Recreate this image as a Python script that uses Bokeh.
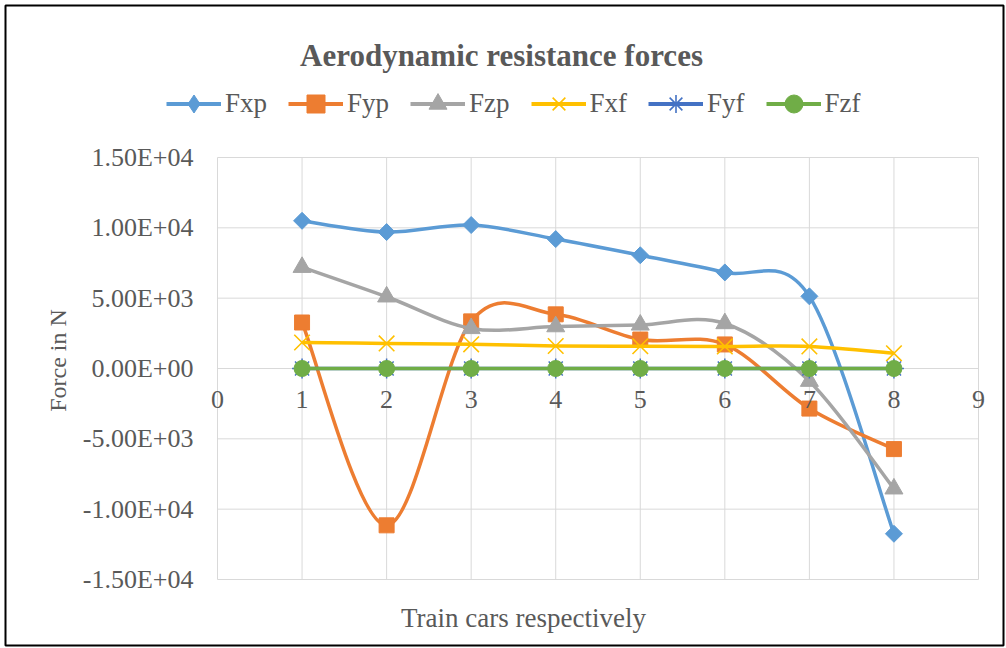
import numpy as np
from bokeh.plotting import figure
from bokeh.models import Legend, LegendItem, FixedTicker, ColumnDataSource, Label
from bokeh.embed import file_html
from bokeh.resources import INLINE

# ---------------- data ----------------
cars = [1, 2, 3, 4, 5, 6, 7, 8]
Fxp = [10500, 9700, 10200, 9200, 8050, 6830, 5130, -11750]
Fyp = [3270, -11150, 3350, 3850, 2060, 1710, -2850, -5730]
Fzp = [7200, 5100, 2850, 2980, 3100, 3200, -900, -8550]
Fxf = [1850, 1780, 1720, 1600, 1580, 1570, 1570, 1080]
Fyf = [0, 0, 0, 0, 0, 0, 0, 0]
Fzf = [0, 0, 0, 0, 0, 0, 0, 0]

series_names = ["Fxp", "Fyp", "Fzp", "Fxf", "Fyf", "Fzf"]
series_values = [Fxp, Fyp, Fzp, Fxf, Fyf, Fzf]
series_colors = ["#5B9BD5", "#ED7D31", "#A5A5A5", "#FFC000", "#4472C4", "#70AD47"]
legend_markers = ["diamond", "square", "triangle", "x", "asterisk", "circle"]

x_ticks = [0, 1, 2, 3, 4, 5, 6, 7, 8, 9]
y_ticks = [-15000, -10000, -5000, 0, 5000, 10000, 15000]
y_tick_labels = ["-1.50E+04", "-1.00E+04", "-5.00E+03", "0.00E+00",
                 "5.00E+03", "1.00E+04", "1.50E+04"]

title_text = "Aerodynamic resistance forces"
x_title = "Train cars respectively"
y_title = "Force in N"

TXT = "#595959"
FONT = "Liberation Serif"

# ---------------- layout (pixels) ----------------
W, H = 1006, 648
FL, FR, FT, FB = 5, 1003, 5, 645            # frame = chart border
PX0, PX9 = 217, 978                          # plot-area x of 0 and 9
PYT, PYB = 157, 579                          # plot-area y of +1.5e4 and -1.5e4
xs_per_px = (x_ticks[-1] - x_ticks[0]) / (PX9 - PX0)
ys_per_px = (y_ticks[-1] - y_ticks[0]) / (PYB - PYT)
x_range = (x_ticks[0] - (PX0 - FL) * xs_per_px, x_ticks[-1] + (FR - PX9) * xs_per_px)
y_range = (y_ticks[0] - (FB - PYB) * ys_per_px, y_ticks[-1] + (PYT - FT) * ys_per_px)


def smooth_segments(xs, ys):
    """Cubic Bezier control points (Excel-like smoothed line)."""
    n = len(xs)
    d = dict(x0=[], y0=[], x1=[], y1=[], cx0=[], cy0=[], cx1=[], cy1=[])
    for i in range(n - 1):
        pm = max(i - 1, 0)
        pp = min(i + 2, n - 1)
        d["x0"].append(xs[i]); d["y0"].append(ys[i])
        d["x1"].append(xs[i + 1]); d["y1"].append(ys[i + 1])
        d["cx0"].append(xs[i] + (xs[i + 1] - xs[pm]) / 6.0)
        d["cy0"].append(ys[i] + (ys[i + 1] - ys[pm]) / 6.0)
        d["cx1"].append(xs[i + 1] - (xs[pp] - xs[i]) / 6.0)
        d["cy1"].append(ys[i + 1] - (ys[pp] - ys[i]) / 6.0)
    return d


p = figure(width=W, height=H, x_range=x_range, y_range=y_range,
           output_backend="svg", toolbar_location=None,
           min_border_left=FL, min_border_right=W - FR,
           min_border_top=FT, min_border_bottom=H - FB)
p.outline_line_color = "black"
p.outline_line_width = 2
p.background_fill_color = "white"
p.border_fill_color = "white"
p.xgrid.visible = False
p.ygrid.visible = False

# plot-area gridlines (bounded to 0..9 and -1.5e4..1.5e4)
grid_col = "#D9D9D9"
p.segment(x0=x_ticks, x1=x_ticks, y0=[y_ticks[0]] * len(x_ticks),
          y1=[y_ticks[-1]] * len(x_ticks), line_color=grid_col, line_width=1)
p.segment(x0=[x_ticks[0]] * len(y_ticks), x1=[x_ticks[-1]] * len(y_ticks),
          y0=y_ticks, y1=y_ticks, line_color=grid_col, line_width=1)

# x axis crossing at zero
xa = p.xaxis[0]
xa.fixed_location = 0
xa.ticker = FixedTicker(ticks=x_ticks)
xa.axis_line_color = None
xa.major_tick_line_color = None
xa.minor_tick_line_color = None
xa.major_tick_out = 0
xa.major_tick_in = 0
xa.major_label_text_font = FONT
xa.major_label_text_font_size = "26px"
xa.major_label_text_color = TXT
xa.major_label_standoff = 22

ya = p.yaxis[0]
ya.ticker = FixedTicker(ticks=y_ticks)
ya.major_label_overrides = {t: s for t, s in zip(y_ticks, y_tick_labels)}
ya.axis_line_color = None
ya.major_tick_line_color = None
ya.minor_tick_line_color = None
ya.major_tick_out = 0
ya.major_tick_in = 0
ya.major_label_text_font = FONT
ya.major_label_text_font_size = "26px"
ya.major_label_text_color = TXT
ya.major_label_standoff = -(PX0 - 24 - FL)

items = []
for name, vals, col, lm in zip(series_names, series_values, series_colors, legend_markers):
    seg = ColumnDataSource(smooth_segments(cars, vals))
    p.bezier(x0="x0", y0="y0", x1="x1", y1="y1", cx0="cx0", cy0="cy0",
             cx1="cx1", cy1="cy1", source=seg, line_color=col, line_width=3.5)
    if name == "Fxp":
        p.scatter(cars, vals, marker="square", size=12, angle=np.pi / 4,
                  fill_color=col, line_color=col)
    elif name == "Fyp":
        p.scatter(cars, vals, marker="square", size=15, fill_color=col, line_color=col)
    elif name == "Fzp":
        p.scatter(cars, vals, marker="triangle", size=18, fill_color=col, line_color=col)
    elif name == "Fxf":
        p.scatter(cars, vals, marker="x", size=22, line_color=col, line_width=1.6)
    elif name == "Fyf":
        p.scatter(cars, vals, marker="asterisk", size=20, line_color=col, line_width=1.5)
    else:
        p.scatter(cars, vals, marker="circle", size=16, fill_color=col, line_color=col)
    # legend-only (hidden) renderers
    lg_line = p.line(cars, vals, line_color=col, line_width=4, visible=False)
    lg_mark = p.scatter(cars, vals, marker=lm, fill_color=col, line_color=col,
                        line_width=1.6 if lm in ("x", "asterisk") else 1, visible=False)
    items.append(LegendItem(label=name, renderers=[lg_line, lg_mark]))

LEG_GH = 45
legend = Legend(items=items, orientation="horizontal",
                location=(166 - FL, FB - (103 + LEG_GH / 2)),
                label_text_font=FONT, label_text_font_size="27px",
                label_text_color=TXT, glyph_width=55, glyph_height=LEG_GH,
                label_height=LEG_GH, label_standoff=4, spacing=21, padding=0, margin=0,
                border_line_color=None, background_fill_alpha=0,
                inactive_fill_alpha=0)
p.add_layout(legend, "center")

p.add_layout(Label(x=501 - FL, y=FB - 55, x_units="screen", y_units="screen",
                   text=title_text, text_align="center", text_baseline="alphabetic",
                   text_font=FONT, text_font_size="31px", text_font_style="bold",
                   text_color=TXT))
p.add_layout(Label(x=523 - FL, y=FB - 617, x_units="screen", y_units="screen",
                   text=x_title, text_align="center", text_baseline="middle",
                   text_font=FONT, text_font_size="27px", text_color=TXT))
p.add_layout(Label(x=57 - FL, y=FB - 360, x_units="screen", y_units="screen",
                   text=y_title, text_align="center", text_baseline="middle",
                   angle=np.pi / 2, text_font=FONT, text_font_size="24px",
                   text_color=TXT))

open("out.html", "w").write(file_html(p, INLINE))
